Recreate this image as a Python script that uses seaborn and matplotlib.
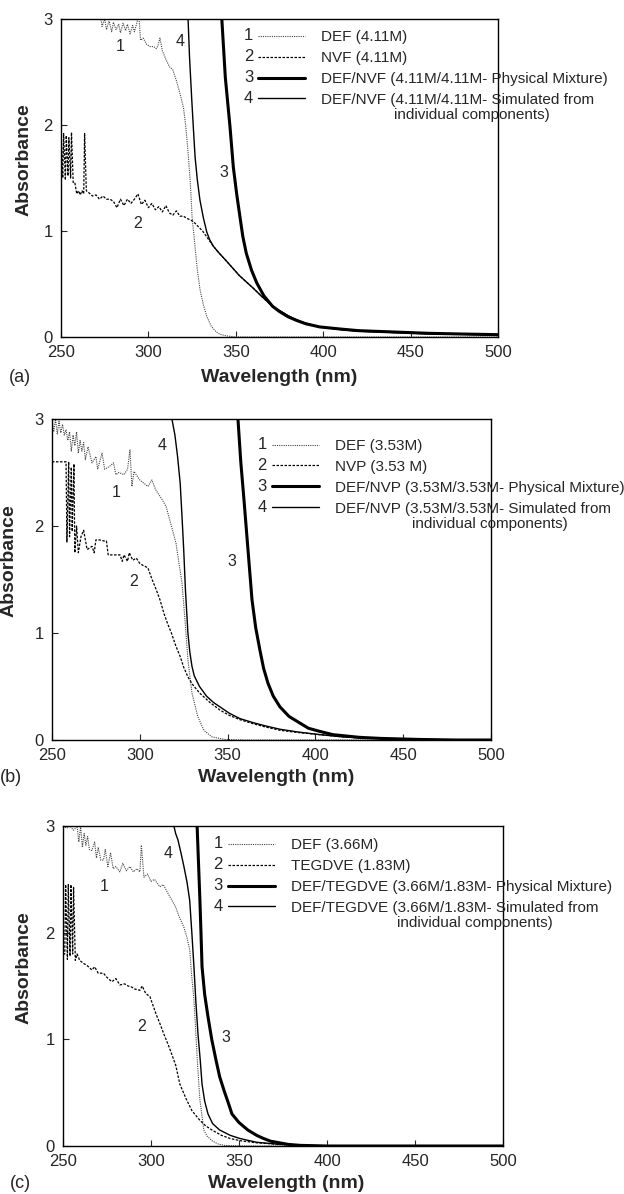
import matplotlib
matplotlib.use("Agg")
import matplotlib.pyplot as plt
import seaborn as sns

sns.set_style("ticks")
plt.rcParams['font.family'] = ['Liberation Sans', 'DejaVu Sans']

# ---------------- Panel (a) data ----------------
def_a_wl = [272, 273.5, 275, 276, 277.5, 279, 280, 281.5, 283, 284,
            285.5, 287, 288, 289.5, 291, 292, 293.5, 294.5, 295.5, 297,
            299, 301, 303, 304.5, 305.5, 306.6, 308, 310, 312, 314,
            316, 318, 320, 321.3, 322.6, 324, 325, 326.4, 327.8, 329.5,
            331.5, 333.5, 336, 338.7, 341, 345, 350, 400, 500]
def_a_abs = [3.1, 2.93, 3.0, 2.9, 2.98, 2.88, 2.97, 2.9, 2.95, 2.87,
             2.96, 2.89, 2.95, 2.86, 2.94, 2.88, 2.97, 3.05, 2.8, 2.82,
             2.76, 2.74, 2.74, 2.72, 2.75, 2.82, 2.7, 2.62, 2.55, 2.52,
             2.42, 2.3, 2.17, 2.0, 1.76, 1.45, 1.13, 0.9, 0.66, 0.45,
             0.3, 0.19, 0.1, 0.05, 0.025, 0.01, 0.0, 0.0, 0.0]

nvf_a_wl = [250, 251, 251.5, 252.5, 253, 254, 254.5, 255.5, 256, 257,
            258, 259, 260, 261, 262, 263, 263.5, 264.5, 266, 268,
            270, 272, 274, 276, 278, 280, 282, 284, 286, 288,
            290, 292, 294, 296, 298, 300, 302, 304, 306, 308,
            310, 312, 314, 316, 318, 320, 322, 325.7, 328, 331,
            334, 337, 340, 345, 352, 360, 365, 371, 375, 380,
            385, 390, 398, 410, 420, 444, 460, 480, 500]
nvf_a_abs = [1.95, 1.5, 1.92, 1.48, 1.9, 1.52, 1.88, 1.5, 1.93, 1.45,
             1.45, 1.35, 1.38, 1.34, 1.38, 1.35, 1.92, 1.38, 1.36, 1.33,
             1.34, 1.3, 1.33, 1.3, 1.3, 1.28, 1.22, 1.3, 1.24, 1.3,
             1.26, 1.3, 1.35, 1.25, 1.29, 1.22, 1.26, 1.2, 1.23, 1.18,
             1.24, 1.17, 1.15, 1.19, 1.14, 1.14, 1.12, 1.09, 1.05, 1.0,
             0.93, 0.86, 0.8, 0.71, 0.58, 0.46, 0.38, 0.29, 0.25, 0.2,
             0.16, 0.13, 0.095, 0.07, 0.055, 0.04, 0.03, 0.025, 0.02]

mix_a_wl = [342, 344, 346.7, 348.6, 350.5, 352.4, 354, 356, 359, 362,
            366, 371, 375, 380, 385, 390, 398, 410, 420, 444,
            460, 480, 500]
mix_a_abs = [3.0, 2.45, 1.98, 1.60, 1.35, 1.13, 0.95, 0.79, 0.63, 0.51,
             0.39, 0.29, 0.24, 0.19, 0.155, 0.125, 0.095, 0.075, 0.06, 0.045,
             0.035, 0.028, 0.022]

sim_a_wl = [322.7, 323.5, 324.8, 325.8, 326.7, 328, 329.5, 331.5, 333.4, 335,
            337, 340, 345, 352, 360, 365, 371, 375, 380, 385,
            390, 398, 410, 420, 444, 460, 480, 500]
sim_a_abs = [3.0, 2.65, 2.24, 1.95, 1.70, 1.48, 1.29, 1.12, 0.99, 0.92,
             0.86, 0.8, 0.71, 0.58, 0.46, 0.38, 0.29, 0.25, 0.2, 0.16,
             0.13, 0.095, 0.07, 0.055, 0.04, 0.03, 0.025, 0.02]

# ---------------- Panel (b) data ----------------
def_b_wl = [250, 251, 252, 253, 254, 255, 256, 257, 258, 259,
            260, 261, 262, 263, 264, 265, 266, 267, 268, 269,
            270.5, 272.8, 275, 276, 278.5, 280, 283, 285, 286.4, 288,
            291, 293, 294.4, 295.5, 296.7, 300, 304.6, 306.9, 309, 312.6,
            315, 318, 320.6, 324, 325.6, 327.4, 329.7, 333, 336.5, 341,
            348, 360, 400, 450, 500]
def_b_abs = [3.0, 2.88, 3.0, 2.86, 2.98, 2.87, 2.95, 2.85, 2.9, 2.8,
             2.88, 2.7, 2.85, 2.75, 2.88, 2.68, 2.8, 2.7, 2.78, 2.62,
             2.74, 2.59, 2.65, 2.53, 2.68, 2.53, 2.56, 2.59, 2.48, 2.5,
             2.48, 2.53, 2.71, 2.37, 2.51, 2.43, 2.37, 2.43, 2.34, 2.25,
             2.18, 2.0, 1.84, 1.47, 1.15, 0.75, 0.44, 0.22, 0.09, 0.03,
             0.006, 0.0, 0.0, 0.0, 0.0]

nvp_b_wl = [250, 258, 258.5, 259.5, 260, 261, 261.5, 262.5, 263, 264,
            265, 266.5, 268, 270, 272.8, 274, 275, 277, 279.6, 281,
            282, 285, 288.7, 290, 291, 293, 294, 296, 298, 300,
            302, 304.6, 307, 309, 311.5, 313.8, 316, 318, 320.5, 323,
            325, 327.4, 330, 334, 340, 345.6, 351, 357, 365, 372,
            380, 390, 402.6, 415, 425, 437, 448, 460, 480, 500]
nvp_b_abs = [2.6, 2.6, 1.85, 2.6, 1.9, 2.55, 1.95, 2.58, 1.75, 2.0,
             1.75, 1.9, 1.96, 1.78, 1.81, 1.75, 1.87, 1.87, 1.86, 1.86,
             1.73, 1.73, 1.73, 1.67, 1.73, 1.67, 1.75, 1.68, 1.7, 1.65,
             1.63, 1.61, 1.50, 1.42, 1.31, 1.18, 1.08, 1.0, 0.88, 0.78,
             0.68, 0.59, 0.52, 0.44, 0.35, 0.28, 0.23, 0.19, 0.15, 0.12,
             0.09, 0.07, 0.05, 0.03, 0.02, 0.015, 0.01, 0.005, 0.0, 0.0]

mix_b_wl = [355.9, 357.5, 359.3, 361.6, 363.9, 366, 368.4, 370.5, 373, 376,
            379.8, 385, 391, 396, 402.6, 410, 425, 437, 448, 460,
            480, 500]
mix_b_abs = [3.0, 2.6, 2.25, 1.78, 1.31, 1.05, 0.84, 0.67, 0.53, 0.41,
             0.31, 0.22, 0.16, 0.11, 0.08, 0.05, 0.025, 0.015, 0.01, 0.005,
             0.0, 0.0]

sim_b_wl = [318.3, 320, 321.5, 323, 324, 325, 326, 327.4, 328.5, 329.7,
            331, 334, 338, 342, 345.6, 351, 357, 365, 372, 380,
            390, 402.6, 415, 425, 437, 448, 460, 480, 500]
sim_b_abs = [3.0, 2.85, 2.65, 2.4, 2.1, 1.78, 1.4, 1.0, 0.82, 0.69,
             0.6, 0.5, 0.41, 0.35, 0.31, 0.25, 0.2, 0.16, 0.13, 0.1,
             0.075, 0.05, 0.03, 0.02, 0.015, 0.01, 0.005, 0.0, 0.0]

# ---------------- Panel (c) data ----------------
def_c_wl = [250, 252, 254, 256, 258, 259, 260, 261, 262, 263,
            264, 265, 266.4, 268, 269, 270, 271.5, 273, 274, 275.5,
            277, 278.5, 280, 282.3, 284, 286, 288, 290, 292, 293.7,
            294.5, 296, 298, 300, 302, 305, 307, 309.6, 312, 314,
            316, 318.7, 320.5, 322, 323, 324.4, 325.5, 326.5, 327.8, 329,
            330, 332, 334.6, 338, 341.5, 350, 400, 500]
def_c_abs = [3.0, 2.98, 3.0, 2.96, 3.0, 2.85, 3.0, 2.8, 2.93, 2.82,
             2.9, 2.78, 2.77, 2.85, 2.7, 2.8, 2.68, 2.68, 2.78, 2.62,
             2.75, 2.6, 2.62, 2.57, 2.65, 2.58, 2.62, 2.57, 2.6, 2.57,
             2.82, 2.52, 2.55, 2.48, 2.5, 2.43, 2.45, 2.37, 2.3, 2.24,
             2.15, 2.05, 1.95, 1.84, 1.62, 1.37, 1.05, 0.75, 0.43, 0.28,
             0.15, 0.09, 0.05, 0.02, 0.006, 0.0, 0.0, 0.0]

teg_c_wl = [250, 251, 251.5, 252.5, 253, 254, 254.5, 255.5, 256, 257,
            258, 259.5, 261.8, 263, 264.5, 266.4, 268, 270, 273, 275,
            277.8, 280, 282.3, 285, 287, 289, 291, 293.7, 295, 297,
            299.4, 302.8, 305, 307.3, 310, 312, 314, 316.4, 320, 323.3,
            327.8, 331, 334.6, 340, 345, 350.6, 360, 373, 390, 420,
            460, 500]
teg_c_abs = [1.8, 1.8, 2.45, 1.75, 2.45, 1.78, 2.45, 1.8, 2.43, 1.74,
             1.8, 1.74, 1.71, 1.7, 1.68, 1.65, 1.68, 1.62, 1.62, 1.58,
             1.54, 1.57, 1.51, 1.52, 1.5, 1.49, 1.47, 1.46, 1.5, 1.43,
             1.40, 1.24, 1.15, 1.05, 0.94, 0.85, 0.76, 0.58, 0.44, 0.33,
             0.24, 0.19, 0.15, 0.1, 0.07, 0.05, 0.03, 0.015, 0.005, 0.0,
             0.0, 0.0]

mix_c_wl = [326.2, 327, 327.8, 328.4, 329, 330.5, 332.4, 334.5, 337, 339,
            341.5, 344, 346, 350, 355, 360, 364, 368, 373, 378,
            384.7, 400, 500]
mix_c_abs = [3.0, 2.65, 2.3, 2.0, 1.68, 1.42, 1.21, 1.0, 0.80, 0.65,
             0.52, 0.4, 0.30, 0.22, 0.15, 0.1, 0.07, 0.045, 0.03, 0.015,
             0.006, 0.0, 0.0]

sim_c_wl = [313, 314, 315.3, 317, 318.7, 320.5, 322, 323.2, 324.4, 325.5,
            326.7, 328, 329, 330.5, 332.4, 335, 339, 345, 350.6, 360,
            373, 385, 400, 500]
sim_c_abs = [3.0, 2.93, 2.87, 2.75, 2.62, 2.47, 2.3, 2.0, 1.68, 1.35,
             1.05, 0.8, 0.58, 0.42, 0.30, 0.21, 0.15, 0.1, 0.07, 0.035,
             0.016, 0.005, 0.0, 0.0]

# ---------------- text ----------------
labels_a = ["DEF (4.11M)", "NVF (4.11M)",
            "DEF/NVF (4.11M/4.11M- Physical Mixture)",
            "DEF/NVF (4.11M/4.11M- Simulated from"]
labels_b = ["DEF (3.53M)", "NVP (3.53 M)",
            "DEF/NVP (3.53M/3.53M- Physical Mixture)",
            "DEF/NVP (3.53M/3.53M- Simulated from"]
labels_c = ["DEF (3.66M)", "TEGDVE (1.83M)",
            "DEF/TEGDVE (3.66M/1.83M- Physical Mixture)",
            "DEF/TEGDVE (3.66M/1.83M- Simulated from"]
prefix_a, prefix_b, prefix_c = "DEF/NVF ", "DEF/NVP ", "DEF/TEGDVE "
continuation = "individual components)"
curve_ids = ["1", "2", "3", "4"]
x_ticks = [250, 300, 350, 400, 450, 500]
y_ticks = [0, 1, 2, 3]

styles = [dict(color="#444444", lw=0.8, ls=(0, (1, 1))),
          dict(color="black", lw=0.9, ls=(0, (2, 1.2))),
          dict(color="black", lw=2.2, ls="-"),
          dict(color="black", lw=1.0, ls="-")]

W, H = 624, 1194
LEG_FS = 11
fig = plt.figure(figsize=(W / 100, H / 100), dpi=100)

def frac_rect(l, t, r, b):
    return [l / W, 1 - b / H, (r - l) / W, (b - t) / H]

panels = [
    dict(rect=frac_rect(61, 19, 498, 337),
         series=[(def_a_wl, def_a_abs), (nvf_a_wl, nvf_a_abs), (mix_a_wl, mix_a_abs), (sim_a_wl, sim_a_abs)],
         labels=labels_a, prefix=prefix_a, extra_indent=4, leg=(0.451, 0.965),
         tags=[(283.7, 2.74), (294, 1.07), (343, 1.55), (318, 2.79)],
         ylab=(-0.085, 0.557), xlab=(0.50, -0.126), letter="(a)", letter_xy=(9, 377)),
    dict(rect=frac_rect(52, 419, 491, 740),
         series=[(def_b_wl, def_b_abs), (nvp_b_wl, nvp_b_abs), (mix_b_wl, mix_b_abs), (sim_b_wl, sim_b_abs)],
         labels=labels_b, prefix=prefix_b, extra_indent=8, leg=(0.501, 0.938),
         tags=[(286.4, 2.31), (296.7, 1.48), (352.5, 1.67), (312.6, 2.75)],
         ylab=(-0.098, 0.56), xlab=(0.51, -0.118), letter="(b)", letter_xy=(0, 778)),
    dict(rect=frac_rect(63, 826, 503, 1146),
         series=[(def_c_wl, def_c_abs), (teg_c_wl, teg_c_abs), (mix_c_wl, mix_c_abs), (sim_c_wl, sim_c_abs)],
         labels=labels_c, prefix=prefix_c, extra_indent=5, leg=(0.375, 0.962),
         tags=[(273.2, 2.43), (294.8, 1.12), (342.6, 1.02), (309.6, 2.74)],
         ylab=(-0.089, 0.556), xlab=(0.507, -0.116), letter="(c)", letter_xy=(10, 1183)),
]

legends = []
for p in panels:
    ax = fig.add_axes(p["rect"])
    handles = []
    for (xs, ys), st in zip(p["series"], styles):
        sns.lineplot(x=xs, y=ys, ax=ax, sort=False, estimator=None,
                     color=st["color"], linewidth=st["lw"], linestyle=st["ls"])
        handles.append(ax.get_lines()[-1])
    ax.set_xlim(250, 500)
    ax.set_ylim(0, 3)
    ax.set_xticks(x_ticks)
    ax.set_yticks(y_ticks)
    ax.tick_params(direction="in", length=4, width=0.8, labelsize=12, pad=6)
    for s in ax.spines.values():
        s.set_linewidth(1.0)
        s.set_color("black")
    ax.set_xlabel("Wavelength (nm)", fontsize=14, fontweight="bold")
    ax.set_ylabel("Absorbance", fontsize=14, fontweight="bold")
    ax.xaxis.set_label_coords(*p["xlab"])
    ax.xaxis.label.set_va("center")
    ax.yaxis.set_label_coords(*p["ylab"])
    ax.yaxis.label.set_va("center")
    for cid, (tx, ty) in zip(curve_ids, p["tags"]):
        ax.text(tx, ty, cid, fontsize=11.5, ha="center", va="center")
    leg = ax.legend(handles, p["labels"], loc="upper left", bbox_to_anchor=p["leg"],
                    frameon=False, fontsize=LEG_FS, handlelength=3.1, handletextpad=1.0,
                    labelspacing=0.45, borderpad=0, borderaxespad=0)
    legends.append((leg, p))
    fig.text(p["letter_xy"][0] / W, 1 - p["letter_xy"][1] / H, p["letter"],
             fontsize=13, ha="left", va="center")

fig.canvas.draw()
renderer = fig.canvas.get_renderer()
for leg, p in legends:
    for cid, h in zip(curve_ids, leg.legend_handles):
        bb = h.get_window_extent(renderer)
        yc = (bb.y0 + bb.y1) / 2
        fig.text((bb.x0 - 5) / W, yc / H, cid, fontsize=12, ha="right", va="center")
    # second line of the 4th legend entry
    t4 = leg.get_texts()[3]
    tb = t4.get_window_extent(renderer)
    tmp = fig.text(0, 0, p["prefix"], fontsize=LEG_FS)
    pw = tmp.get_window_extent(renderer).width
    tmp.remove()
    fig.text((tb.x0 + pw + p["extra_indent"]) / W, (tb.y0 + tb.y1) / 2 / H - 15.5 / H,
             continuation, fontsize=LEG_FS, ha="left", va="center")

fig.savefig("out.png", dpi=100)
